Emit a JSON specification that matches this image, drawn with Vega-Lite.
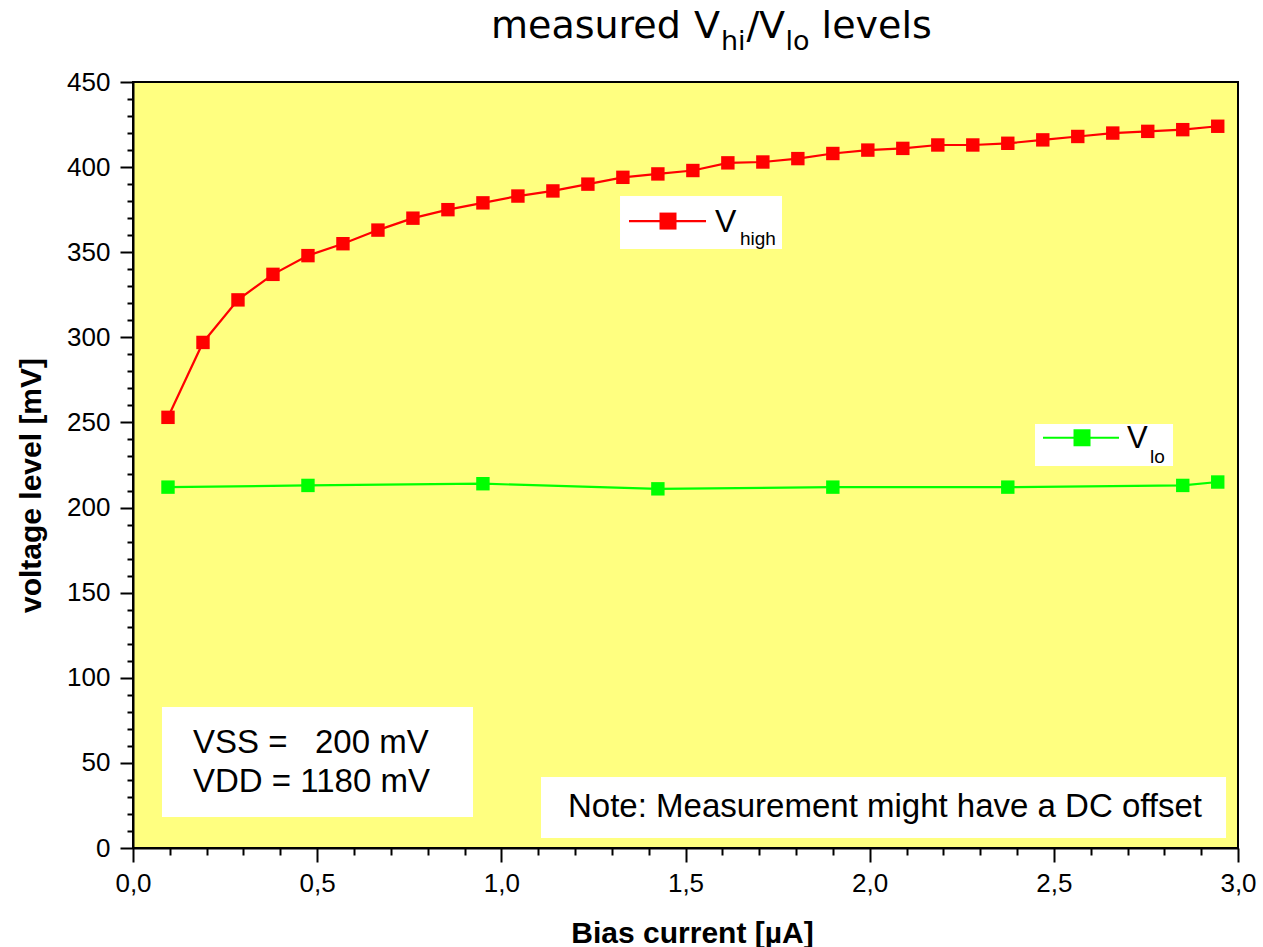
{
  "$schema": "https://vega.github.io/schema/vega-lite/v6.json",
  "width": 1105,
  "height": 766,
  "autosize": {"type": "none"},
  "padding": {"left": 133, "top": 82, "right": 25, "bottom": 99},
  "background": "white",
  "config": {
    "font": "Liberation Sans",
    "view": {"fill": "#FFFF80", "stroke": "#000000", "strokeWidth": 2},
    "axisX": {
      "labelExpr": "abs(datum.value*2 - round(datum.value*2)) < 0.001 ? replace(format(datum.value, '.1f'), '.', ',') : ''",
      "tickSize": {"condition": {"test": "abs(datum.value*2 - round(datum.value*2)) < 0.001", "value": 14}, "value": 7},
      "grid": false,
      "domainColor": "#000000", "domainWidth": 2,
      "tickColor": "#000000", "tickWidth": 2,
      "labelFont": "Liberation Sans", "labelFontSize": 26, "labelColor": "#000000",
      "labelPadding": 8, "labelOverlap": false, "labelFlush": false,
      "titleFont": "Liberation Sans", "titleFontSize": 30, "titleFontWeight": "bold", "titleColor": "#000000",
      "titleX": 559, "titleY": 94, "titleAlign": "center", "titleBaseline": "alphabetic"
    },
    "axisY": {
      "labelExpr": "datum.value % 50 === 0 ? format(datum.value, 'd') : ''",
      "tickSize": {"condition": {"test": "datum.value % 50 === 0", "value": 13}, "value": 6},
      "grid": true,
      "gridColor": "#C4C4C4", "gridWidth": 1.5,
      "gridOpacity": {"condition": {"test": "datum.value % 50 === 0", "value": 1}, "value": 0},
      "domainColor": "#000000", "domainWidth": 2,
      "tickColor": "#000000", "tickWidth": 2,
      "labelFont": "Liberation Sans", "labelFontSize": 26, "labelColor": "#000000",
      "labelPadding": 10, "labelOverlap": false, "labelFlush": false,
      "titleFont": "Liberation Sans", "titleFontSize": 30, "titleFontWeight": "bold", "titleColor": "#000000",
      "titleX": -93, "titleY": 403, "titleAngle": 270, "titleAlign": "center", "titleBaseline": "alphabetic"
    }
  },
  "datasets": {
    "meas": [
      {"series": "V_high", "current": 0.095, "voltage": 253},
      {"series": "V_high", "current": 0.19, "voltage": 297},
      {"series": "V_high", "current": 0.285, "voltage": 322},
      {"series": "V_high", "current": 0.38, "voltage": 337},
      {"series": "V_high", "current": 0.475, "voltage": 348},
      {"series": "V_high", "current": 0.57, "voltage": 355},
      {"series": "V_high", "current": 0.665, "voltage": 363},
      {"series": "V_high", "current": 0.76, "voltage": 370},
      {"series": "V_high", "current": 0.855, "voltage": 375},
      {"series": "V_high", "current": 0.95, "voltage": 379},
      {"series": "V_high", "current": 1.045, "voltage": 383},
      {"series": "V_high", "current": 1.14, "voltage": 386},
      {"series": "V_high", "current": 1.235, "voltage": 390},
      {"series": "V_high", "current": 1.33, "voltage": 394},
      {"series": "V_high", "current": 1.425, "voltage": 396},
      {"series": "V_high", "current": 1.52, "voltage": 398},
      {"series": "V_high", "current": 1.615, "voltage": 402.5},
      {"series": "V_high", "current": 1.71, "voltage": 403},
      {"series": "V_high", "current": 1.805, "voltage": 405},
      {"series": "V_high", "current": 1.9, "voltage": 408},
      {"series": "V_high", "current": 1.995, "voltage": 410},
      {"series": "V_high", "current": 2.09, "voltage": 411},
      {"series": "V_high", "current": 2.185, "voltage": 413},
      {"series": "V_high", "current": 2.28, "voltage": 413},
      {"series": "V_high", "current": 2.375, "voltage": 414},
      {"series": "V_high", "current": 2.47, "voltage": 416},
      {"series": "V_high", "current": 2.565, "voltage": 418},
      {"series": "V_high", "current": 2.66, "voltage": 420},
      {"series": "V_high", "current": 2.755, "voltage": 421},
      {"series": "V_high", "current": 2.85, "voltage": 422},
      {"series": "V_high", "current": 2.945, "voltage": 424},
      {"series": "V_lo", "current": 0.095, "voltage": 212},
      {"series": "V_lo", "current": 0.475, "voltage": 213},
      {"series": "V_lo", "current": 0.95, "voltage": 214},
      {"series": "V_lo", "current": 1.425, "voltage": 211},
      {"series": "V_lo", "current": 1.9, "voltage": 212},
      {"series": "V_lo", "current": 2.375, "voltage": 212},
      {"series": "V_lo", "current": 2.85, "voltage": 213},
      {"series": "V_lo", "current": 2.945, "voltage": 215}
    ]
  },
  "layer": [
    {
      "data": {"name": "meas"},
      "mark": {"type": "line", "strokeWidth": 2.2, "point": {"shape": "square", "size": 180, "filled": true, "opacity": 1}},
      "encoding": {
        "x": {"field": "current", "type": "quantitative", "scale": {"domain": [0, 3], "nice": false, "zero": false},
              "axis": {"title": "Bias current [µA]", "tickCount": 1000, "values": [0,0.1,0.2,0.3,0.4,0.5,0.6,0.7,0.8,0.9,1,1.1,1.2,1.3,1.4,1.5,1.6,1.7,1.8,1.9,2,2.1,2.2,2.3,2.4,2.5,2.6,2.7,2.8,2.9,3]}},
        "y": {"field": "voltage", "type": "quantitative", "scale": {"domain": [0, 450], "nice": false, "zero": false},
              "axis": {"title": "voltage level [mV]", "tickCount": 1000, "values": [0,10,20,30,40,50,60,70,80,90,100,110,120,130,140,150,160,170,180,190,200,210,220,230,240,250,260,270,280,290,300,310,320,330,340,350,360,370,380,390,400,410,420,430,440,450]}},
        "color": {"field": "series", "type": "nominal", "scale": {"domain": ["V_high", "V_lo"], "range": ["#FF0000", "#00FF00"]}, "legend": null}
      }
    },
    {
      "data": {"values": [{}]},
      "mark": {"type": "rect", "fill": "#FFFFFF"},
      "encoding": {"x": {"datum": 0.0787}, "x2": {"datum": 0.9231}, "y": {"datum": 18.2}, "y2": {"datum": 82.8}}
    },
    {
      "data": {"values": [{}]},
      "mark": {"type": "rect", "fill": "#FFFFFF"},
      "encoding": {"x": {"datum": 1.1077}, "x2": {"datum": 2.9675}, "y": {"datum": 5.9}, "y2": {"datum": 41.7}}
    },
    {
      "data": {"values": [{}]},
      "mark": {"type": "rect", "fill": "#FFFFFF"},
      "encoding": {"x": {"datum": 1.3222}, "x2": {"datum": 1.762}, "y": {"datum": 351.9}, "y2": {"datum": 383.0}}
    },
    {
      "data": {"values": [{}]},
      "mark": {"type": "rect", "fill": "#FFFFFF"},
      "encoding": {"x": {"datum": 2.4489}, "x2": {"datum": 2.8236}, "y": {"datum": 224.4}, "y2": {"datum": 249.1}}
    },
    {
      "data": {"values": [{}]},
      "mark": {"type": "rule", "stroke": "#FF0000", "strokeWidth": 2.2},
      "encoding": {"x": {"datum": 1.3466}, "x2": {"datum": 1.5557}, "y": {"datum": 368.3}}
    },
    {
      "data": {"values": [{}]},
      "mark": {"type": "square", "size": 289, "color": "#FF0000", "opacity": 1},
      "encoding": {"x": {"datum": 1.4525}, "y": {"datum": 368.3}}
    },
    {
      "data": {"values": [{}]},
      "mark": {"type": "rule", "stroke": "#00FF00", "strokeWidth": 2.2},
      "encoding": {"x": {"datum": 2.4706}, "x2": {"datum": 2.677}, "y": {"datum": 241.0}}
    },
    {
      "data": {"values": [{}]},
      "mark": {"type": "square", "size": 289, "color": "#00FF00", "opacity": 1},
      "encoding": {"x": {"datum": 2.5765}, "y": {"datum": 241.0}}
    },
    {
      "data": {"values": [{}]},
      "mark": {"type": "text", "text": "V", "align": "left", "baseline": "alphabetic", "fontSize": 32, "font": "Liberation Sans", "color": "#000000"},
      "encoding": {"x": {"datum": 1.5801}, "y": {"datum": 361.9}}
    },
    {
      "data": {"values": [{}]},
      "mark": {"type": "text", "text": "high", "align": "left", "baseline": "alphabetic", "fontSize": 19, "font": "Liberation Sans", "color": "#000000"},
      "encoding": {"x": {"datum": 1.648}, "y": {"datum": 354.3}}
    },
    {
      "data": {"values": [{}]},
      "mark": {"type": "text", "text": "V", "align": "left", "baseline": "alphabetic", "fontSize": 31, "font": "Liberation Sans", "color": "#000000"},
      "encoding": {"x": {"datum": 2.6987}, "y": {"datum": 235.0}}
    },
    {
      "data": {"values": [{}]},
      "mark": {"type": "text", "text": "lo", "align": "left", "baseline": "alphabetic", "fontSize": 19, "font": "Liberation Sans", "color": "#000000"},
      "encoding": {"x": {"datum": 2.7611}, "y": {"datum": 226.2}}
    },
    {
      "data": {"values": [{}]},
      "mark": {"type": "text", "text": "VSS =\u00a0\u00a0 200 mV", "align": "left", "baseline": "alphabetic", "fontSize": 33, "font": "Liberation Sans", "color": "#000000"},
      "encoding": {"x": {"datum": 0.1629}, "y": {"datum": 55.8}}
    },
    {
      "data": {"values": [{}]},
      "mark": {"type": "text", "text": "VDD = 1180 mV", "align": "left", "baseline": "alphabetic", "fontSize": 33, "font": "Liberation Sans", "color": "#000000"},
      "encoding": {"x": {"datum": 0.1629}, "y": {"datum": 32.9}}
    },
    {
      "data": {"values": [{}]},
      "mark": {"type": "text", "text": "Note: Measurement might have a DC offset", "align": "center", "baseline": "middle", "fontSize": 33, "font": "Liberation Sans", "color": "#000000"},
      "encoding": {"x": {"datum": 2.0417}, "y": {"datum": 24.1}}
    },
    {
      "data": {"values": [{}]},
      "mark": {"type": "text", "text": "measured", "align": "left", "baseline": "alphabetic", "fontSize": 38, "font": "DejaVu Sans", "color": "#000000"},
      "encoding": {"x": {"datum": 0.97195}, "y": {"datum": 475.85}}
    },
    {
      "data": {"values": [{}]},
      "mark": {"type": "text", "text": "V", "align": "left", "baseline": "alphabetic", "fontSize": 38, "font": "DejaVu Sans", "color": "#000000"},
      "encoding": {"x": {"datum": 1.52309}, "y": {"datum": 475.85}}
    },
    {
      "data": {"values": [{}]},
      "mark": {"type": "text", "text": "hi", "align": "left", "baseline": "alphabetic", "fontSize": 27, "font": "DejaVu Sans", "color": "#000000"},
      "encoding": {"x": {"datum": 1.59639}, "y": {"datum": 468.8}}
    },
    {
      "data": {"values": [{}]},
      "mark": {"type": "text", "text": "/", "align": "left", "baseline": "alphabetic", "fontSize": 38, "font": "DejaVu Sans", "color": "#000000"},
      "encoding": {"x": {"datum": 1.66563}, "y": {"datum": 475.85}}
    },
    {
      "data": {"values": [{}]},
      "mark": {"type": "text", "text": "V", "align": "left", "baseline": "alphabetic", "fontSize": 38, "font": "DejaVu Sans", "color": "#000000"},
      "encoding": {"x": {"datum": 1.69956}, "y": {"datum": 475.85}}
    },
    {
      "data": {"values": [{}]},
      "mark": {"type": "text", "text": "lo", "align": "left", "baseline": "alphabetic", "fontSize": 27, "font": "DejaVu Sans", "color": "#000000"},
      "encoding": {"x": {"datum": 1.77151}, "y": {"datum": 468.8}}
    },
    {
      "data": {"values": [{}]},
      "mark": {"type": "text", "text": "levels", "align": "left", "baseline": "alphabetic", "fontSize": 38, "font": "DejaVu Sans", "color": "#000000"},
      "encoding": {"x": {"datum": 1.86952}, "y": {"datum": 475.85}}
    }
  ]
}
